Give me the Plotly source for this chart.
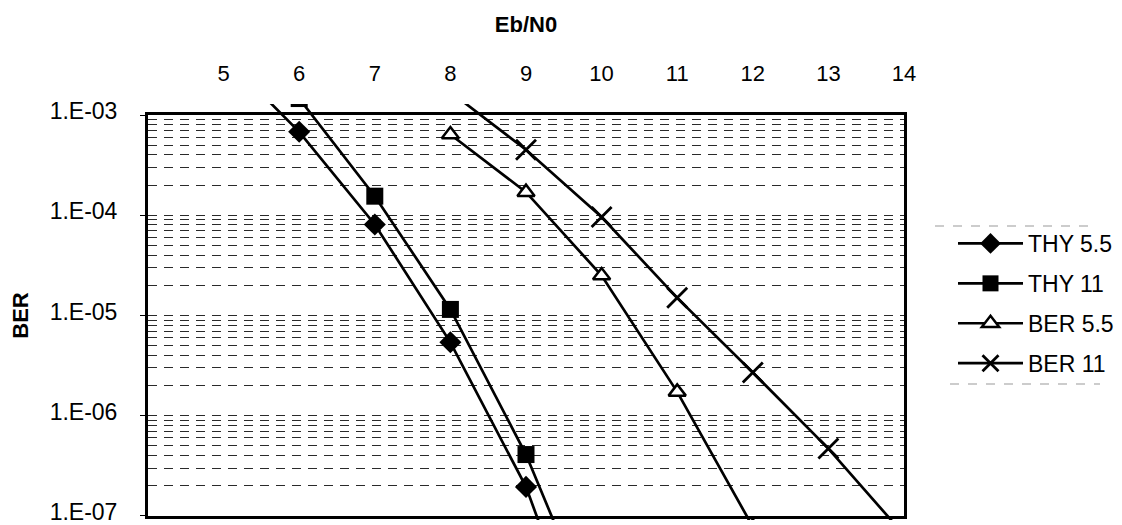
import plotly.graph_objects as go

# ---------------- data ----------------
ebn0_thy55 = [5, 6, 7, 8, 9, 10]
ber_thy55 = [3.9e-3, 6.8e-4, 8.1e-5, 5.4e-6, 1.95e-7, 1.7e-9]

ebn0_thy11 = [6, 7, 8, 9, 10]
ber_thy11 = [1.46e-3, 1.55e-4, 1.15e-5, 4.1e-7, 6.3e-9]

ebn0_ber55 = [8, 9, 10, 11, 12]
ber_ber55 = [6.4e-4, 1.7e-4, 2.5e-5, 1.73e-6, 7.8e-8]

ebn0_ber11 = [8, 9, 10, 11, 12, 13, 14]
ber_ber11 = [1.7e-3, 4.5e-4, 9.6e-5, 1.5e-5, 2.7e-6, 4.7e-7, 6.5e-8]

x_ticks = [5, 6, 7, 8, 9, 10, 11, 12, 13, 14]
y_ticks = [1e-7, 1e-6, 1e-5, 1e-4, 1e-3]
y_ticktext = ["1.E-07", "1.E-06", "1.E-05", "1.E-04", "1.E-03"]
y_minor = [k * 10.0 ** e for e in range(-7, -3) for k in range(2, 10)]

# ---------------- layout geometry (page pixels) ----------------
OFF = 8                      # default page margin around the plot div
W, H = 1122 - OFF, 525 - OFF  # figure size so that it ends at the window edge
box_left, box_right = 148 - OFF, 904 - OFF
box_top, box_bottom = 115 - OFF, 516 - OFF
clip_top, clip_bottom = 104 - OFF, 520 - OFF

EPS = 2e-4
y_range = [-7 - EPS, -3 + EPS]
y_dom = [1 - box_bottom / H, 1 - box_top / H]
y2_dom = [1 - clip_bottom / H, 1 - clip_top / H]
ppd = (box_bottom - box_top) / (y_range[1] - y_range[0])
y2_range = [y_range[0] - (clip_bottom - box_bottom) / ppd,
            y_range[1] + (box_top - clip_top) / ppd]
pw = box_right - box_left


def px_x(p):
    return (p - OFF - box_left) / pw


def px_y(p):
    return 1 - (p - OFF) / H


FONT = "Liberation Sans, Arial, sans-serif"
LINE = dict(color="black", width=2.7)

fig = go.Figure()
# empty trace so that the framed (x, y) subplot with its grid is created
fig.add_trace(go.Scatter(x=[], y=[], xaxis="x", yaxis="y", showlegend=False,
                         hoverinfo="skip"))
series = [
    ("THY 5.5", ebn0_thy55, ber_thy55, dict(symbol="diamond", size=17, color="black")),
    ("THY 11", ebn0_thy11, ber_thy11, dict(symbol="square", size=17, color="black")),
    ("BER 5.5", ebn0_ber55, ber_ber55,
     dict(symbol="triangle-up", size=15, color="white", line=dict(color="black", width=2.5))),
    ("BER 11", ebn0_ber11, ber_ber11,
     dict(symbol="x-thin", size=20, color="black", line=dict(color="black", width=2.8))),
]
for name, xs, ys, mk in series:
    fig.add_trace(go.Scatter(
        x=xs, y=ys, name=name, mode="lines+markers",
        line=LINE, marker=mk, xaxis="x", yaxis="y2", legendgroup=name,
    ))

grid = dict(showgrid=True, gridcolor="#2a2a2a", gridwidth=1, griddash="9px,7px")

fig.update_layout(
    width=W, height=H,
    margin=dict(l=box_left, r=W - box_right, t=0, b=0, pad=0, autoexpand=False),
    paper_bgcolor="white", plot_bgcolor="rgba(0,0,0,0)",
    font=dict(family=FONT, size=23, color="black"),
    showlegend=True,
    legend=dict(
        x=px_x(953), xanchor="left",
        y=px_y(222), yanchor="top",
        font=dict(size=23, family=FONT),
        itemwidth=65, tracegroupgap=7,
        bgcolor="rgba(0,0,0,0)",
    ),
    xaxis=dict(
        range=[4, 14], side="top", anchor="y", automargin=False,
        tickmode="array", tickvals=x_ticks, ticks="",
        ticklabelstandoff=22, tickfont=dict(size=22),
        showgrid=False, zeroline=False,
        showline=True, linecolor="black", linewidth=3, mirror=True,
        title=dict(text="<b>Eb/N0</b>", font=dict(size=22), standoff=23),
    ),
    yaxis=dict(
        type="log", range=y_range, domain=y_dom, anchor="x", automargin=False,
        tickmode="array", tickvals=y_ticks, ticktext=y_ticktext,
        ticks="outside", ticklen=5, tickcolor="black",
        ticklabelstandoff=18, ticklabelshift=-4, tickfont=dict(size=23),
        ticklabeloverflow="allow",
        showline=True, linecolor="black", linewidth=3, mirror=True,
        zeroline=False,
        minor=dict(tickmode="array", tickvals=y_minor, ticks="", **grid),
        title=dict(text="<b>BER</b>", font=dict(size=22), standoff=22),
        **grid,
    ),
    yaxis2=dict(
        type="log", range=y2_range, domain=y2_dom, anchor="x",
        visible=False, showgrid=False,
    ),
    shapes=[
        dict(type="line", xref="paper", yref="paper",
             x0=px_x(935), x1=px_x(1095), y0=px_y(226), y1=px_y(226),
             line=dict(color="#999999", width=1, dash="dash")),
        dict(type="line", xref="paper", yref="paper",
             x0=px_x(950), x1=px_x(1100), y0=px_y(384), y1=px_y(384),
             line=dict(color="#999999", width=1, dash="dash")),
    ],
)

fig.write_html("out.html")
